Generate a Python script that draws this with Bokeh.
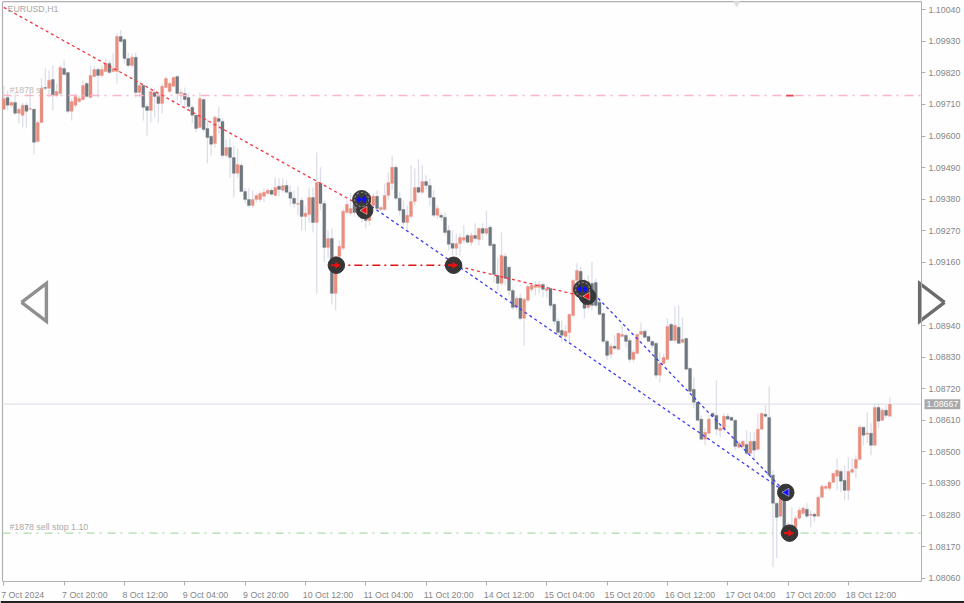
from math import pi
from bokeh.embed import file_html
from bokeh.resources import INLINE
from bokeh.plotting import figure
from bokeh.models import FixedTicker, Label, NumeralTickFormatter, Range1d
from bokeh.core.properties import value

# Prices are in points (1 point = 0.00001)
opens = [
    109693,109734,109707,109717,109679,109672,109707,109693,109693,109581,
    109647,109769,109766,109797,109741,109748,109835,109821,109686,109707,
    109720,109727,109783,109734,109807,109832,109811,109825,109853,109825,
    109825,109947,109936,109870,109846,109874,109752,109776,109703,109689,
    109752,109738,109713,109769,109755,109773,109807,109748,109748,109734,
    109700,109672,109630,109727,109626,109599,109574,109661,109651,109532,
    109560,109525,109470,109498,109407,109379,109358,109379,109379,109390,
    109400,109411,109393,109425,109411,109428,109404,109383,109362,109376,
    109320,109327,109386,109299,109435,109365,109212,109243,109052,109181,
    109209,109334,109331,109362,109334,109313,109383,109306,109358,109390,
    109344,109344,109393,109435,109491,109383,109344,109299,109320,109372,
    109421,109404,109442,109428,109386,109324,109324,109317,109271,109226,
    109209,109226,109237,109254,109230,109254,109240,109278,109261,109282,
    109223,109115,109087,109181,109143,109062,109003,109035,108965,109028,
    109066,109073,109073,109083,109062,109069,109014,108955,108923,108902,
    108916,108975,109097,109129,109097,109003,109087,109090,109021,108982,
    108885,108840,108868,108857,108902,108906,108888,108822,108843,108909,
    108920,108902,108885,108878,108767,108808,108822,108944,108888,108934,
    108881,108895,108791,108718,108673,108614,108544,108565,108634,108627,
    108575,108579,108624,108620,108610,108516,108519,108526,108495,108537,
    108509,108579,108631,108620,108419,108321,108276,108359,108217,108217,
    108237,108269,108286,108300,108279,108283,108276,108342,108373,108373,
    108394,108415,108432,108401,108366,108429,108443,108474,108586,108561,
    108565,108523,108655,108610,108645,108624,
]
closes = [
    109731,109707,109717,109679,109693,109707,109686,109696,109578,109647,
    109766,109766,109794,109741,109755,109839,109814,109686,109720,109738,
    109731,109776,109738,109811,109832,109811,109832,109853,109821,109835,
    109947,109929,109870,109846,109874,109752,109776,109700,109689,109755,
    109738,109713,109773,109800,109783,109804,109748,109752,109727,109703,
    109672,109626,109731,109623,109595,109571,109665,109651,109532,109560,
    109525,109470,109501,109407,109379,109358,109379,109393,109400,109404,
    109411,109397,109421,109414,109428,109404,109383,109365,109365,109320,
    109331,109386,109299,109438,109365,109212,109243,109052,109181,109216,
    109338,109362,109348,109334,109358,109376,109306,109393,109390,109348,
    109351,109393,109438,109491,109383,109341,109299,109324,109372,109421,
    109404,109442,109428,109386,109324,109348,109317,109264,109223,109209,
    109226,109247,109247,109230,109254,109243,109278,109261,109278,109219,
    109118,109087,109184,109104,109062,109003,109035,108965,109031,109076,
    109080,109080,109083,109066,109069,109010,108955,108916,108906,108920,
    108979,109097,109132,109062,109000,109094,109010,109010,108979,108885,
    108836,108868,108861,108913,108909,108885,108822,108847,108909,108920,
    108899,108885,108871,108767,108808,108829,108937,108888,108941,108878,
    108892,108788,108711,108673,108610,108544,108568,108614,108624,108579,
    108582,108624,108614,108610,108519,108530,108537,108495,108537,108506,
    108579,108634,108624,108419,108321,108272,108359,108234,108244,108237,
    108269,108297,108304,108276,108283,108276,108342,108380,108380,108394,
    108425,108436,108398,108366,108432,108439,108474,108586,108558,108565,
    108523,108655,108607,108645,108627,108666,
]
highs = [
    109773,109759,109724,109748,109700,109717,109717,109752,109696,109654,
    109800,109835,109828,109846,109783,109846,109863,109821,109731,109748,
    109741,109794,109787,109846,109846,109839,109846,109870,109863,109888,
    109957,109968,109940,109891,109888,109891,109783,109776,109713,109766,
    109766,109752,109783,109807,109790,109807,109811,109762,109769,109752,
    109707,109679,109752,109731,109658,109602,109672,109700,109661,109588,
    109592,109567,109557,109505,109418,109418,109411,109400,109407,109418,
    109418,109418,109456,109452,109452,109445,109428,109411,109425,109386,
    109358,109421,109421,109543,109491,109376,109271,109278,109184,109237,
    109348,109376,109400,109383,109393,109411,109411,109404,109400,109411,
    109358,109435,109473,109532,109498,109404,109376,109358,109498,109487,
    109519,109498,109463,109452,109411,109358,109334,109334,109289,109271,
    109261,109261,109289,109261,109264,109296,109282,109296,109341,109289,
    109226,109177,109264,109191,109150,109069,109042,109052,109038,109083,
    109087,109094,109094,109090,109080,109073,109017,108965,108958,108941,
    108982,109101,109157,109146,109104,109115,109160,109104,109035,108986,
    108892,108878,108906,108916,108941,108913,108895,108854,108913,108951,
    108927,108906,108888,108881,108847,108843,108965,108951,109007,109010,
    108968,108899,108794,108760,108676,108627,108582,108627,108638,108749,
    108593,108634,108634,108624,108614,108540,108540,108575,108568,108568,
    108634,108638,108662,108728,108436,108324,108373,108373,108255,108307,
    108279,108307,108311,108321,108297,108290,108349,108387,108384,108398,
    108429,108478,108439,108453,108481,108478,108488,108593,108586,108638,
    108600,108669,108669,108652,108662,108690,
]
lows = [
    109689,109689,109700,109672,109644,109630,109630,109689,109536,109578,
    109644,109759,109734,109689,109734,109741,109811,109679,109654,109700,
    109717,109724,109734,109731,109804,109734,109804,109821,109818,109821,
    109783,109926,109853,109839,109839,109734,109734,109654,109602,109647,
    109665,109647,109679,109766,109752,109769,109724,109713,109700,109696,
    109644,109613,109626,109613,109505,109532,109560,109609,109522,109525,
    109456,109386,109456,109404,109365,109351,109351,109369,109369,109369,
    109397,109393,109390,109390,109404,109400,109358,109351,109324,109271,
    109271,109299,109264,109052,109341,109160,109174,109014,108993,109174,
    109202,109327,109324,109320,109313,109299,109278,109289,109351,109334,
    109341,109341,109376,109411,109376,109324,109289,109271,109313,109358,
    109400,109397,109411,109358,109317,109313,109306,109254,109202,109184,
    109184,109184,109226,109226,109219,109237,109219,109237,109254,109212,
    109090,109062,109080,109080,109045,108993,108993,108958,108871,109021,
    109056,109045,109052,109038,109038,109000,108941,108906,108881,108878,
    108878,108968,109090,109042,108965,108993,108993,109003,108975,108878,
    108819,108826,108854,108854,108899,108864,108812,108812,108840,108906,
    108895,108881,108861,108756,108742,108805,108819,108885,108881,108875,
    108878,108784,108707,108652,108607,108540,108523,108561,108620,108558,
    108551,108572,108610,108607,108506,108512,108506,108488,108492,108471,
    108506,108575,108620,108412,108098,108130,108272,108217,108192,108210,
    108234,108262,108279,108269,108237,108255,108272,108338,108366,108366,
    108391,108366,108359,108331,108331,108425,108408,108471,108523,108530,
    108488,108519,108582,108607,108617,108624,
]

date_tick_bars = [0, 16, 32, 48, 64, 80, 96, 112, 128, 144, 160, 176, 192, 208, 224]
date_labels = ["7 Oct 2024", "7 Oct 20:00", "8 Oct 12:00", "9 Oct 04:00", "9 Oct 20:00",
               "10 Oct 12:00", "11 Oct 04:00", "11 Oct 20:00", "14 Oct 12:00", "15 Oct 04:00",
               "15 Oct 20:00", "16 Oct 12:00", "17 Oct 04:00", "17 Oct 20:00", "18 Oct 12:00"]
# 1.09050 sits under the navigation arrow in the reference, so it is not listed
price_ticks = [108060, 108170, 108280, 108390, 108500, 108610, 108720, 108830, 108940,
               109160, 109270, 109380, 109490, 109600, 109710, 109820, 109930, 110040]

current_price = 108666
sl_price = 109741
stop_price = 108217

red_trend_bars, red_trend_prices = [0, 95], [110048, 109355]
red_link_bars, red_link_prices = [119.3, 154.8], [109150, 109038]
dark_link_bars, dark_link_prices = [88.2, 119.3], [109150, 109150]
blue_low_bars, blue_low_prices = [94.9, 207.4], [109379, 108359]
blue_up_bars, blue_up_prices = [154.3, 207.4], [109080, 108359]

circle_bars = [88.2, 119.3, 95.7, 154.8, 207.4, 208.4]
circle_prices = [109150, 109150, 109341, 109042, 108359, 108217]
ring_bars, ring_prices = [94.9, 153.5], [109379, 109066]
red_right_bars, red_right_prices = [88.4, 119.5, 208.6], [109150, 109150, 108217]
red_left_bars, red_left_prices = [95.7, 154.8], [109341, 109042]
blue_left_bars, blue_left_prices = [207.6], [108359]
blue_pair_bars = [94.2, 95.6, 152.8, 154.2]
blue_pair_prices = [109379, 109379, 109066, 109066]

nav_prices = [109021, 109087, 108955, 109021]
left_nav_bars = [4.7, 11.3, 11.3, 4.7]
right_nav_bars = [249.5, 242.9, 242.9, 249.5]
rule_price = 107976

# Edges of the price pane and of the window, in bars and in prices
PANE_L, PANE_R = -0.34, 243.4
PANE_B, PANE_T = 1.08050, 1.10068
WIN_L, WIN_R = -0.875, 254.8
WIN_B, WIN_T = 1.07972, 1.10072

UP = "#E98F80"
DOWN = "#6F777F"
WICK = "#DCDFE9"
TXT = "#868686"
FRAME = "#B0B0B0"
FONT = "Liberation Sans"
SIZE = "8.8px"

to_price = lambda pts: [v / 100000 for v in pts]

p = figure(width=964, height=603, output_backend="svg", toolbar_location=None,
           x_range=Range1d(WIN_L, WIN_R), y_range=Range1d(WIN_B, WIN_T),
           y_axis_location="right", min_border=0,
           background_fill_color="#FEFEFE", border_fill_color="#FEFEFE",
           outline_line_color=None)
p.grid.visible = False

xs = list(range(len(opens)))
up = [c >= o for o, c in zip(opens, closes)]
body_top = [max(o, c) / 100000 for o, c in zip(opens, closes)]
body_bot = [min(o, c) / 100000 for o, c in zip(opens, closes)]
colors = [UP if u else DOWN for u in up]

p.line([PANE_L, PANE_L], [PANE_B, PANE_T], line_color=FRAME, line_width=1.2)
p.line([PANE_L, PANE_R], [PANE_T, PANE_T], line_color=FRAME, line_width=1.2)
p.line([WIN_L, WIN_R], to_price([rule_price] * 2), line_color="#222222", line_width=2.5)

p.line([PANE_L, PANE_R], to_price([current_price] * 2), line_color="#E2E2EA", line_width=1.2)
p.segment(xs, to_price(highs), xs, to_price(lows), line_color=WICK, line_width=1.3)
p.vbar(xs, 0.8, body_bot, body_top, fill_color=colors, line_color=colors, line_width=0.3)

p.line([PANE_L, PANE_R], to_price([sl_price] * 2), line_color="#FFB4C6", line_width=1.6,
       line_dash="9 5 2 6")
p.line([PANE_L, PANE_R], to_price([stop_price] * 2), line_color="#ABDCAB", line_width=1.3,
       line_dash="8 5 2 6")
p.line([207.5, 209.5], to_price([sl_price] * 2), line_color="#F04050", line_width=1.8)

for bx, py, col, dash, lw in [(red_trend_bars, red_trend_prices, "#F5333F", "3 3", 1.3),
                              (red_link_bars, red_link_prices, "#F5333F", "3 3", 1.3),
                              (dark_link_bars, dark_link_prices, "#E01515", "8 4 2 4", 1.3),
                              (blue_low_bars, blue_low_prices, "#3C3CF2", "3 3", 1.3),
                              (blue_up_bars, blue_up_prices, "#3C3CF2", "3 3", 1.3)]:
    p.line(bx, to_price(py), line_color=col, line_width=lw, line_dash=dash)

p.scatter(circle_bars, to_price(circle_prices), marker="circle", size=16.5,
          fill_color="#363636", line_color="#363636")
p.scatter(ring_bars, to_price(ring_prices), marker="circle", size=18,
          fill_color="#3A3A3A", line_color="#3A3A3A")
p.scatter(ring_bars, to_price(ring_prices), marker="circle", size=14, fill_color=None,
          line_color="#A8A8A8", line_width=1, line_dash="2 2")
p.scatter([b - 0.9 for b in red_right_bars], to_price(red_right_prices), marker="dash", size=6,
          line_color="#F01010", line_width=2)
p.scatter(red_right_bars, to_price(red_right_prices), marker="triangle", size=6, angle=-pi / 2,
          fill_color="#F01010", line_color="#F01010", line_width=0.4)
p.scatter(red_left_bars, to_price(red_left_prices), marker="triangle", size=8, angle=pi / 2,
          fill_color="#F01010", line_color="white", line_width=0.5)
p.scatter(blue_left_bars, to_price(blue_left_prices), marker="triangle", size=8, angle=pi / 2,
          fill_color="#1010FF", line_color="white", line_width=0.5)
p.scatter(blue_pair_bars, to_price(blue_pair_prices), marker="diamond", size=7.5,
          fill_color="#1010FF", line_color=None)

p.scatter([194.4], [1.10062], marker="inverted_triangle", size=7, fill_color="#DEDEDE",
          line_color=None)

p.line(left_nav_bars, to_price(nav_prices), line_color="#909090", line_width=3.4,
       line_join="miter")
p.line(right_nav_bars, to_price(nav_prices), line_color="#6C6C6C", line_width=3.4,
       line_join="miter")

text_kw = dict(text_font=value(FONT), text_font_size=value(SIZE), text_baseline="middle",
               text_align="left")
p.text([1.0], [1.10044], text=["EURUSD,H1"], text_color="#A8A8A8", **text_kw)
p.text([1.5], [1.09759], text=["#1878 sl"], text_color="#BBBBBB", **text_kw)
p.text([1.5], [1.08237], text=["#1878 sell stop 1.10"], text_color="#AAAAAA", **text_kw)

# date axis: tick marks at the bar, label text beginning at the tick
centres = [b + round(len(s) * 0.55 * 2) / 2 - 0.5 for b, s in zip(date_tick_bars, date_labels)]
ax = p.xaxis[0]
ax.fixed_location = PANE_B
ax.bounds = (PANE_L, PANE_R)
ax.ticker = FixedTicker(ticks=centres, minor_ticks=date_tick_bars)
ax.major_label_overrides = dict(zip(centres, date_labels))
ax.major_tick_line_color = None
ax.major_tick_out = 0
ax.major_tick_in = 0
ax.minor_tick_line_color = FRAME
ax.minor_tick_out = 4
ax.minor_tick_in = 0
ax.axis_line_color = FRAME
ax.major_label_standoff = 5
ax.major_label_text_color = TXT
ax.major_label_text_font = FONT
ax.major_label_text_font_size = SIZE

ay = p.yaxis[0]
ay.fixed_location = PANE_R
ay.bounds = (PANE_B, PANE_T)
ay.ticker = FixedTicker(ticks=to_price(price_ticks))
ay.formatter = NumeralTickFormatter(format="0.00000")
ay.major_tick_line_color = FRAME
ay.major_tick_out = 4
ay.major_tick_in = 0
ay.minor_tick_line_color = None
ay.axis_line_color = FRAME
ay.major_label_standoff = 3
ay.major_label_text_color = TXT
ay.major_label_text_font = FONT
ay.major_label_text_font_size = SIZE

p.add_layout(Label(x=924, y=current_price / 100000, x_units="screen", y_units="data",
                   text="1.08667", text_color="white", text_font=FONT, text_font_size=SIZE,
                   text_baseline="middle", background_fill_color="#A9A9A9", padding=2))

open("out.html", "w").write(file_html(p, INLINE))
